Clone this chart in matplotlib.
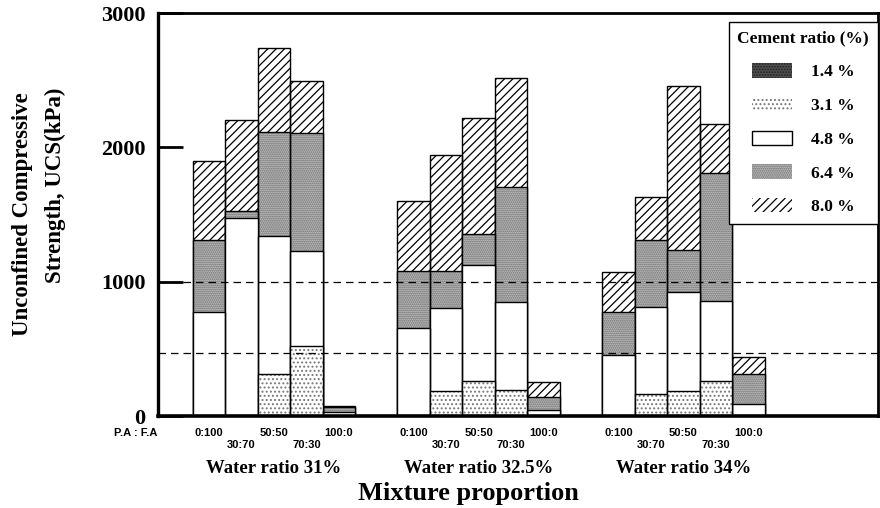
import matplotlib
matplotlib.use("Agg")
import matplotlib.pyplot as plt
from matplotlib.patches import Patch
import matplotlib.transforms as mtransforms

plt.rcParams["font.family"] = ["Liberation Serif", "DejaVu Serif"]
plt.rcParams["hatch.linewidth"] = 0.9

# --- data (UCS in kPa) ---
water_labels = ["Water ratio 31%", "Water ratio 32.5%", "Water ratio 34%"]
mix_labels = ["0:100", "30:70", "50:50", "70:30", "100:0"]
cement_labels = ["1.4 %", "3.1 %", "4.8 %", "6.4 %", "8.0 %"]

# one value per (water ratio, mixture) -> 15 bars per cement ratio
ucs_80 = [1900, 2205, 2738, 2494, 72, 1599, 1943, 2223, 2521, 251, 1070, 1633, 2459, 2174, 442]
ucs_64 = [1310, 1524, 2112, 2105, 68, 1077, 1077, 1353, 1703, 139, 772, 1310, 1236, 1807, 313]
ucs_48 = [777, 1472, 1342, 1226, 28, 657, 806, 1124, 847, 47, 454, 809, 921, 854, 89]
ucs_31 = [0, 0, 313, 523, 0, 0, 188, 258, 196, 0, 0, 164, 188, 263, 0]
ucs_14 = [0] * 15

ref_lines = [1000, 470]

# fill colour, hatch, hatch colour per cement ratio
styles = {
    "1.4 %": ("#505050", "......", "#222222"),
    "3.1 %": ("white", "....", "#777777"),
    "4.8 %": ("white", None, "black"),
    "6.4 %": ("#c2c2c2", "........", "#666666"),
    "8.0 %": ("white", "////", "black"),
}

group_step = 6.3
xpos = [g * group_step + i for g in range(len(water_labels)) for i in range(len(mix_labels))]

fig = plt.figure(figsize=(8.8, 5.08), dpi=100)
ax = fig.add_axes([0.1795, 0.181, 0.818, 0.793])

series = [("8.0 %", ucs_80), ("6.4 %", ucs_64), ("4.8 %", ucs_48),
          ("3.1 %", ucs_31), ("1.4 %", ucs_14)]
for z, (lab, vals) in enumerate(series):
    fc, hatch, hc = styles[lab]
    keep = [(x, v) for x, v in zip(xpos, vals) if v > 0]
    xs = [k[0] for k in keep]
    vs = [k[1] for k in keep]
    # fill + hatch, then black outline on top
    ax.bar(xs, vs, width=1.0, facecolor=fc, hatch=hatch, edgecolor=hc,
           linewidth=0, zorder=2 + 2 * z)
    ax.bar(xs, vs, width=1.0, fill=False, edgecolor="black", linewidth=1.0,
           zorder=3 + 2 * z)

for yv in ref_lines:
    ax.axhline(yv, color="black", lw=0.9, ls=(0, (6, 4)), zorder=15)

ax.set_xlim(-1.57, 20.58)
ax.set_ylim(0, 3000)
ax.set_yticks([0, 1000, 2000, 3000])
ax.set_yticklabels(["0", "1000", "2000", "3000"], fontsize=16, fontweight="bold")
ax.tick_params(axis="y", direction="in", length=18, width=2, pad=9)
ax.set_xticks([])
for sp in ax.spines.values():
    sp.set_linewidth(2.0)
    sp.set_zorder(16)
ax.spines["left"].set_linewidth(2.4)
ax.spines["bottom"].set_linewidth(2.6)

# mixture labels in two staggered rows
trans = mtransforms.blended_transform_factory(ax.transData, fig.transFigure)
for k, x in enumerate(xpos):
    i = k % len(mix_labels)
    ypix = 433 if i % 2 == 0 else 444.5
    ax.text(x, 1 - ypix / 508, mix_labels[i], transform=trans, ha="center", va="center",
            fontsize=8, fontweight="bold", family=["Liberation Sans", "DejaVu Sans"])
fig.text(136 / 880, 1 - 433 / 508, "P.A : F.A", ha="center", va="center",
         fontsize=8, fontweight="bold", family=["Liberation Sans", "DejaVu Sans"])

for g, lab in enumerate(water_labels):
    ax.text(g * group_step + 2, 1 - 473 / 508, lab, transform=trans, ha="center",
            va="baseline", fontsize=13.5, fontweight="bold")

fig.text(468 / 880, 1 - 500 / 508, "Mixture proportion", ha="center", va="baseline",
         fontsize=19, fontweight="bold")
fig.text(23 / 880, 1 - 214 / 508, "Unconfined Compressive", rotation=90,
         ha="center", va="center", fontsize=16.5, fontweight="bold")
fig.text(55 / 880, 1 - 185 / 508, "Strength, UCS(kPa)", rotation=90,
         ha="center", va="center", fontsize=16.5, fontweight="bold")

handles = []
for lab in cement_labels:
    fc, hatch, hc = styles[lab]
    if lab == "8.0 %":
        handles.append(Patch(facecolor=fc, hatch=hatch, edgecolor=hc, linewidth=0, label=lab))
    else:
        handles.append(Patch(facecolor=fc, hatch=hatch, edgecolor=hc if hatch else "black",
                             linewidth=1.0 if lab == "4.8 %" else 0, label=lab))
leg = ax.legend(handles=handles, loc="upper right", bbox_to_anchor=(1.0, 0.978),
                title="Cement ratio (%)", frameon=True, fancybox=False,
                edgecolor="black", framealpha=1, borderaxespad=0,
                prop=dict(size=12.5, weight="bold"), labelspacing=0.95,
                handlelength=2.3, handleheight=0.9, handletextpad=1.1,
                borderpad=0.5)
leg.get_title().set_fontweight("bold")
leg.get_title().set_fontsize(12.5)
leg.get_frame().set_linewidth(1.0)
leg.set_zorder(20)

fig.savefig("out.png", dpi=100)
